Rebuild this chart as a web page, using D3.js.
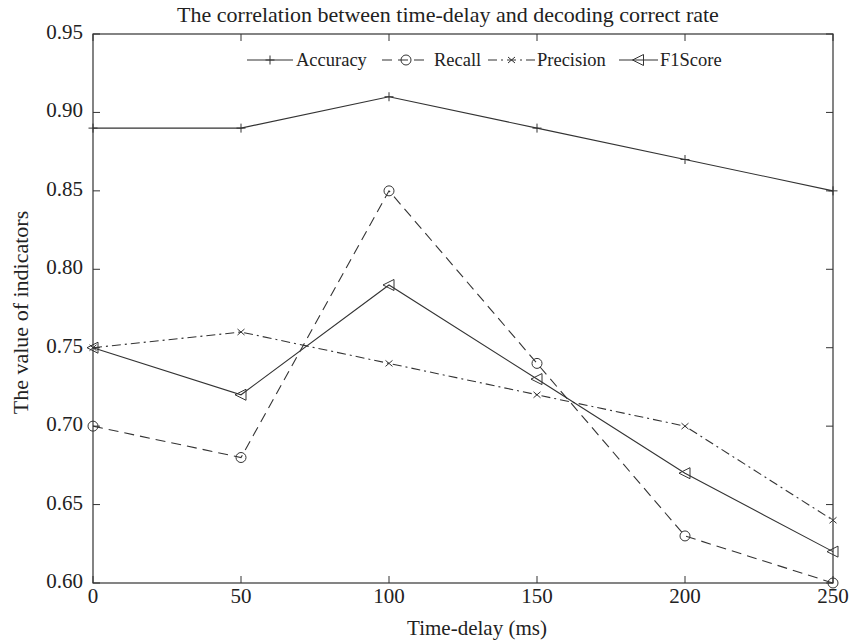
<!DOCTYPE html>
<html>
<head>
<meta charset="utf-8">
<script src="https://cdn.jsdelivr.net/npm/d3@7"></script>
<style>
  body { margin: 0; background: #fff; }
</style>
</head>
<body>
<div id="container"></div>
<script>
// data
const delays = [0, 50, 100, 150, 200, 250]
const accuracy = [0.89, 0.89, 0.91, 0.89, 0.87, 0.85]
const recall = [0.70, 0.68, 0.85, 0.74, 0.63, 0.60]
const precision = [0.75, 0.76, 0.74, 0.72, 0.70, 0.64]
const f1score = [0.75, 0.72, 0.79, 0.73, 0.67, 0.62]
const xTicks = [0, 50, 100, 150, 200, 250]
const yTicks = [0.60, 0.65, 0.70, 0.75, 0.80, 0.85, 0.90, 0.95]

const series = [
  {name: "Accuracy", values: accuracy, dash: null, marker: "plus"},
  {name: "Recall", values: recall, dash: "10,6", marker: "circle"},
  {name: "Precision", values: precision, dash: "9,4,2,4", marker: "cross"},
  {name: "F1Score", values: f1score, dash: null, marker: "triangle"}
]

const width = 855, height = 643
const box = {left: 93, right: 833, top: 34, bottom: 583}
const ink = "#333"
const font = "Liberation Serif"

const svg = d3.create("svg")
  .attr("width", width)
  .attr("height", height)
container.append(svg.node())

const x = d3.scaleLinear().domain([0, 250]).range([box.left, box.right])
const y = d3.scaleLinear().domain([0.60, 0.95]).range([box.bottom, box.top])

// frame with inward ticks on all four sides
const tickLen = 7
svg.append("rect")
  .attr("x", box.left).attr("y", box.top)
  .attr("width", box.right - box.left).attr("height", box.bottom - box.top)
  .style("fill", "none").style("stroke", ink).style("stroke-width", 1.2)

const g = svg.append("g").style("stroke", ink).style("stroke-width", 1)
xTicks.forEach(t => {
  g.append("line").attr("x1", x(t)).attr("x2", x(t)).attr("y1", box.bottom).attr("y2", box.bottom - tickLen)
  g.append("line").attr("x1", x(t)).attr("x2", x(t)).attr("y1", box.top).attr("y2", box.top + tickLen)
})
yTicks.forEach(t => {
  g.append("line").attr("x1", box.left).attr("x2", box.left + tickLen).attr("y1", y(t)).attr("y2", y(t))
  g.append("line").attr("x1", box.right).attr("x2", box.right - tickLen).attr("y1", y(t)).attr("y2", y(t))
})

const txt = (sel, size) => sel
  .attr("font-family", font)
  .attr("font-size", size)
  .attr("fill", "#222")

const fs = 21
svg.selectAll(".xt")
  .data(xTicks)
  .join("text")
  .attr("class", "xt")
  .attr("x", d => x(d))
  .attr("y", box.bottom + 20)
  .attr("text-anchor", "middle")
  .call(txt, fs)
  .text(d => d)

svg.selectAll(".yt")
  .data(yTicks)
  .join("text")
  .attr("class", "yt")
  .attr("x", box.left - 10)
  .attr("y", d => y(d) + 5)
  .attr("text-anchor", "end")
  .call(txt, fs)
  .text(d => d.toFixed(2))

svg.append("text")
  .attr("x", 448)
  .attr("y", 22)
  .attr("text-anchor", "middle")
  .call(txt, 22)
  .text("The correlation between time-delay and decoding correct rate")

svg.append("text")
  .attr("x", 477)
  .attr("y", 635)
  .attr("text-anchor", "middle")
  .call(txt, fs)
  .text("Time-delay (ms)")

svg.append("text")
  .attr("transform", `translate(28,${(box.top + box.bottom) / 2 + 4}) rotate(-90)`)
  .attr("text-anchor", "middle")
  .call(txt, 22)
  .text("The value of indicators")

// markers
const drawMarker = (sel, type, cx, cy) => {
  const m = sel.append("g").attr("transform", `translate(${cx},${cy})`)
    .style("fill", "none").style("stroke", ink).style("stroke-width", 1)
  if (type === "plus") {
    m.append("path").attr("d", "M-4.5,0H4.5M0,-4.5V4.5")
  } else if (type === "circle") {
    m.append("circle").attr("r", 5)
  } else if (type === "cross") {
    m.append("path").attr("d", "M-3.5,-3L3.5,3M-3.5,3L3.5,-3")
  } else if (type === "triangle") {
    m.append("path").attr("d", "M-6,0L5,-5.5L5,5.5Z")
  }
}

const line = d3.line().x((d, i) => x(delays[i])).y(d => y(d))

series.forEach(s => {
  svg.append("path")
    .datum(s.values)
    .attr("d", line)
    .style("fill", "none")
    .style("stroke", ink)
    .style("stroke-width", 1.1)
    .style("stroke-dasharray", s.dash)
  s.values.forEach((v, i) => drawMarker(svg, s.marker, x(delays[i]), y(v)))
})

// legend, one row along the top
const legendY = 60
const legendItems = [
  {s: series[0], x1: 247, x2: 293, tx: 296},
  {s: series[1], x1: 382, x2: 430, tx: 434},
  {s: series[2], x1: 488, x2: 535, tx: 537},
  {s: series[3], x1: 619, x2: 658, tx: 660}
]
legendItems.forEach(it => {
  svg.append("line")
    .attr("x1", it.x1).attr("x2", it.x2).attr("y1", legendY).attr("y2", legendY)
    .style("stroke", ink).style("stroke-width", 1.1)
    .style("stroke-dasharray", it.s.dash)
  drawMarker(svg, it.s.marker, (it.x1 + it.x2) / 2, legendY)
  svg.append("text")
    .attr("x", it.tx).attr("y", legendY + 6)
    .call(txt, 18.5)
    .text(it.s.name)
})
</script>
</body>
</html>
